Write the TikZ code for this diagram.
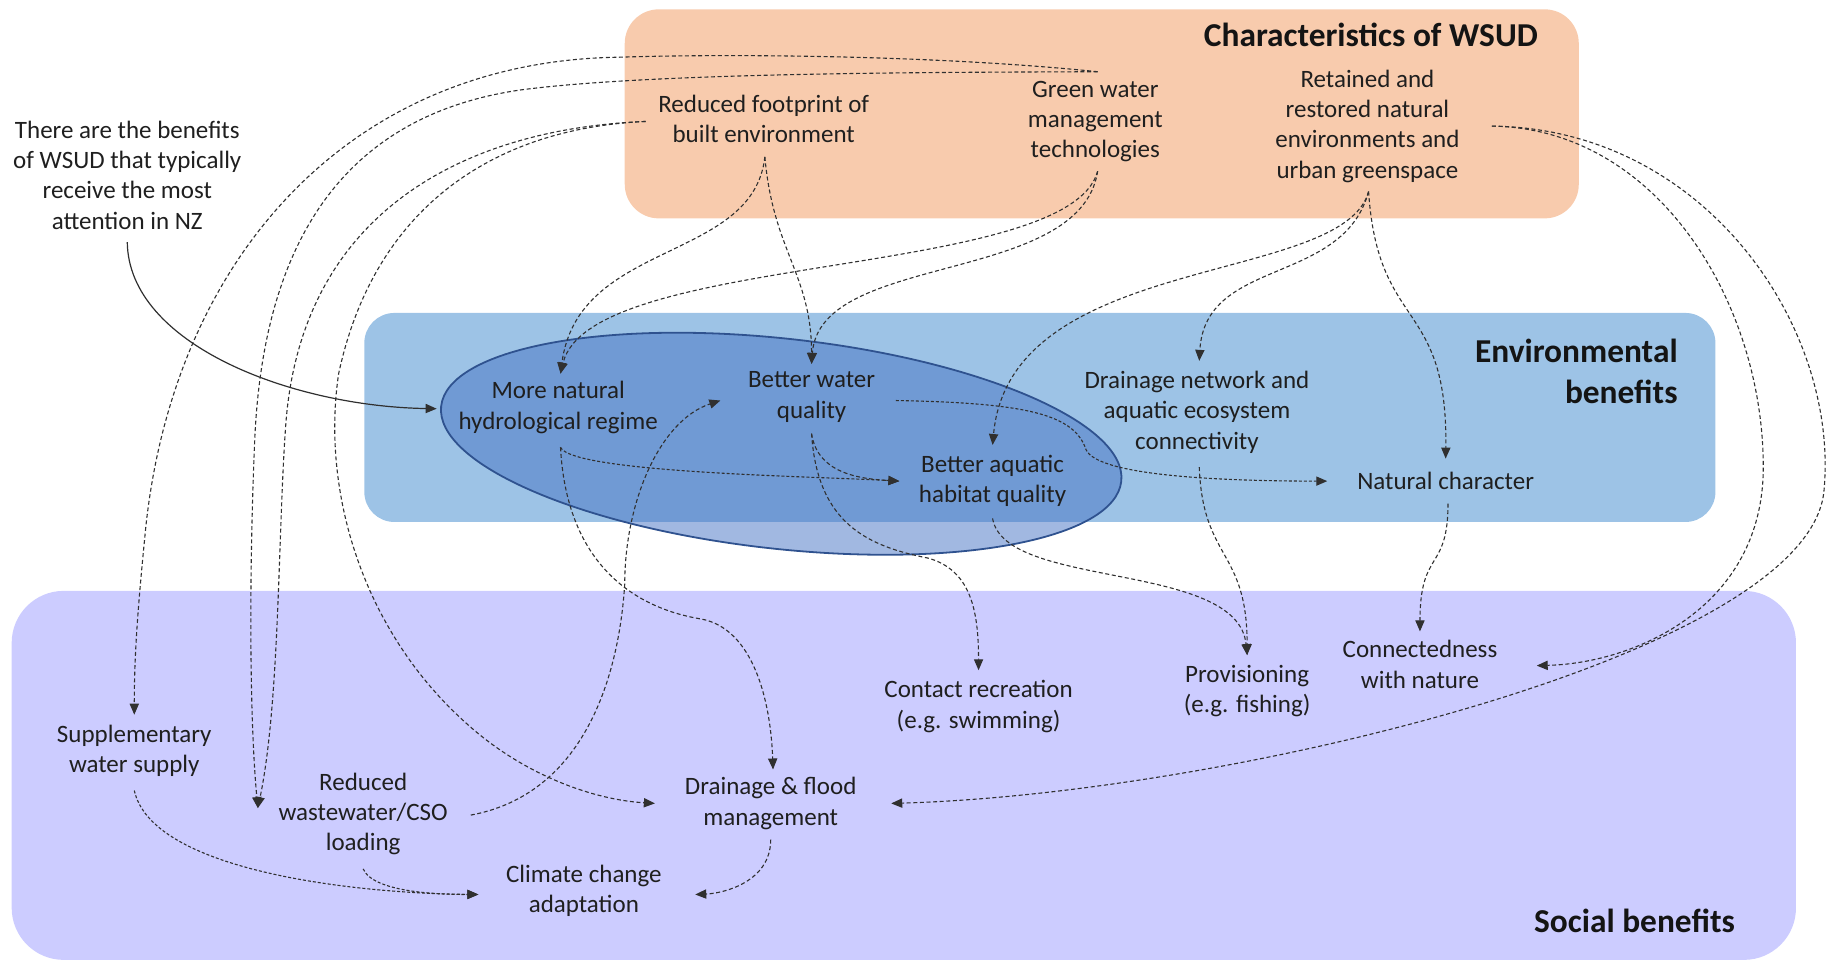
\documentclass[tikz,border=0pt]{standalone}
\usepackage{fontspec}
\setmainfont{Carlito}
\usetikzlibrary{arrows.meta,calc}
\definecolor{orbox}{HTML}{F8CBAD}
\definecolor{blbox}{HTML}{9DC3E6}
\definecolor{pubox}{HTML}{CCCCFF}
\definecolor{ellfill}{HTML}{4472C4}
\definecolor{elldraw}{HTML}{2F528F}
\definecolor{lnk}{HTML}{303030}
\tikzset{
  lbl/.style={align=center, font=\fontsize{12.5}{15.2}\selectfont, inner sep=2pt, text=black!88},
  ttl/.style={font=\fontsize{16.7}{20.4}\selectfont\bfseries, inner sep=0pt, text=black!92},
  link/.style={draw=lnk, dash pattern=on 2pt off 1.3pt, line width=0.55pt, -{Triangle[length=5.5pt,width=4.6pt]}},
  dotlink/.style={link, dash pattern=on 1.5pt off 1pt},
  solidlink/.style={draw=lnk, line width=0.6pt, -{Triangle[length=5.5pt,width=4.6pt]}}
}
\begin{document}
\begin{tikzpicture}[x=0.58385pt, y=-0.58385pt]
\useasboundingbox (0,0) rectangle (1568,823);
% panels
\fill[orbox, rounded corners=17pt] (535,8) rectangle (1352,187);
\fill[blbox, rounded corners=15pt] (312,268) rectangle (1469,447);
\fill[pubox, rounded corners=26pt] (10,506) rectangle (1538,822);
\filldraw[fill=ellfill, fill opacity=0.5, draw=elldraw, line width=0.9pt, rotate around={-6.3:(669,380)}] (669,380) ellipse [x radius=293, y radius=90];
% titles
\node[ttl] (t1) at (1174,30) {Characteristics of WSUD};
\node[ttl, anchor=east, align=right] (t2) at (1437,318) {Environmental\\benefits};
\node[ttl, anchor=east] (t3) at (1486,789) {Social benefits};
% characteristics
\node[lbl] (rf) at (654,102) {Reduced footprint of\\built environment};
\node[lbl] (gw) at (938,104) {Green water\\management\\technologies};
\node[lbl] (ret) at (1171,108) {Retained and\\restored natural\\environments and\\urban greenspace};
\node[lbl] (note) at (109,150) {There are the benefits\\of WSUD that typically\\receive the most\\attention in NZ};
% environmental
\node[lbl] (mnh) at (478,349) {More natural\\hydrological regime};
\node[lbl] (bwq) at (695,340) {Better water\\quality};
\node[lbl] (dn) at (1025,353) {Drainage network and\\aquatic ecosystem\\connectivity};
\node[lbl] (bah) at (850,412) {Better aquatic\\habitat quality};
\node[lbl] (nc) at (1238,412) {Natural character};
% social
\node[lbl] (conn) at (1216,569) {Connectedness\\with nature};
\node[lbl] (prov) at (1068,592) {Provisioning\\(e.g. fishing)};
\node[lbl] (cr) at (838,605) {Contact recreation\\(e.g. swimming)};
\node[lbl] (sws) at (115,643) {Supplementary\\water supply};
\node[lbl] (rww) at (311,697) {Reduced\\wastewater/CSO\\loading};
\node[lbl] (dfm) at (660,688) {Drainage \& flood\\management};
\node[lbl] (cca) at (500,763) {Climate change\\adaptation};
% connector end points
\coordinate (gwtop) at ($(gw.north)+(2,-4)$);
\coordinate (rfw) at ($(rf.west)+(-7,2)$);
\coordinate (retE) at ($(ret.east)+(24,0)$);
\coordinate (rwwin) at ($(rww.west)+(-14,-5)$);
% long connectors, left
\draw[link] (gwtop) .. controls (800,47) and (620,46) .. (530,49) .. controls (300,52) and (150,220) .. (125,450) .. controls (118,520) and (115,560) .. ($(sws.north)+(0,-5)$);
\draw[link] (gwtop) .. controls (800,62) and (560,62) .. (446,77) .. controls (300,98) and (225,200) .. (218,380) .. controls (213,500) and (214,620) .. (rwwin);
\draw[link] (rfw) .. controls (400,110) and (260,180) .. (245,360) .. controls (238,450) and (240,600) .. (rwwin);
\draw[link] (rfw) .. controls (420,110) and (320,180) .. (290,320) .. controls (275,420) and (310,540) .. (400,620) .. controls (450,665) and (510,685) .. ($(dfm.west)+(-22,0)$);
% long connectors, right
\draw[link] (retE) .. controls (1420,110) and (1510,260) .. (1510,400) .. controls (1510,520) and (1400,568) .. ($(conn.east)+(30,1)$);
\draw[link] (retE) .. controls (1460,110) and (1575,280) .. (1562,420) .. controls (1550,560) and (1050,680) .. ($(dfm.east)+(26,0)$);
% characteristics to environmental
\draw[link] ($(rf.south)+(1,8)$) .. controls (645,225) and (495,205) .. ($(mnh.north)+(2,-3)$);
\draw[link] ($(rf.south)+(1,8)$) .. controls (662,215) and (695,235) .. ($(bwq.north)+(0,-3)$);
\draw[link] ($(gw.south)+(2,4)$) .. controls (915,240) and (505,215) .. ($(mnh.north)+(2,-3)$);
\draw[link] ($(gw.south)+(2,4)$) .. controls (925,245) and (702,215) .. ($(bwq.north)+(0,-3)$);
\draw[link] ($(ret.south)+(1,4)$) .. controls (1150,245) and (865,215) .. ($(bah.north)+(0,-5)$);
\draw[link] ($(ret.south)+(1,4)$) .. controls (1150,245) and (1032,220) .. ($(dn.north)+(2,-5)$);
\draw[link] ($(ret.south)+(1,4)$) .. controls (1180,285) and (1240,255) .. ($(nc.north)+(0,-8)$);
% within environmental
\draw[dotlink] ($(bwq.east)+(14,3)$) .. controls (880,345) and (920,355) .. (930,385) .. controls (940,408) and (1050,412) .. ($(nc.west)+(-22,0)$);
\draw[dotlink] ($(mnh.south)+(2,8)$) .. controls (490,405) and (700,408) .. ($(bah.west)+(-13,0)$);
\draw[link] ($(bwq.south)+(0,6)$) .. controls (700,405) and (735,410) .. ($(bah.west)+(-13,0)$);
% environmental to social
\draw[link] ($(bwq.south)+(0,6)$) .. controls (700,450) and (745,468) .. (795,478) .. controls (830,488) and (838,520) .. ($(cr.north)+(0,-5)$);
\draw[link] ($(mnh.south)+(2,8)$) .. controls (485,480) and (540,520) .. (600,530) .. controls (645,538) and (660,600) .. ($(dfm.north)+(2,-3)$);
\draw[link] ($(rww.east)+(16,1)$) .. controls (500,680) and (530,580) .. (535,500) .. controls (535,430) and (565,360) .. ($(bwq.west)+(-20,3)$);
\draw[link] ($(bah.south)+(0,6)$) .. controls (860,505) and (1060,480) .. ($(prov.north)+(0,-5)$);
\draw[link] ($(dn.south)+(2,8)$) .. controls (1030,480) and (1068,470) .. ($(prov.north)+(0,-5)$);
\draw[link] ($(nc.south)+(2,8)$) .. controls (1240,490) and (1216,470) .. ($(conn.north)+(0,-4)$);
% social internal
\draw[dotlink] ($(sws.south)+(0,8)$) .. controls (130,745) and (300,765) .. ($(cca.west)+(-20,3)$);
\draw[dotlink] ($(rww.south)+(0,8)$) .. controls (320,765) and (380,766) .. ($(cca.west)+(-20,3)$);
\draw[link] ($(dfm.south)+(0,5)$) .. controls (660,755) and (620,765) .. ($(cca.east)+(25,3)$);
% annotation
\draw[solidlink] ($(note.south)+(0,7)$) .. controls (110,295) and (250,348) .. ($(mnh.west)+(-15,1)$);
\end{tikzpicture}
\end{document}
